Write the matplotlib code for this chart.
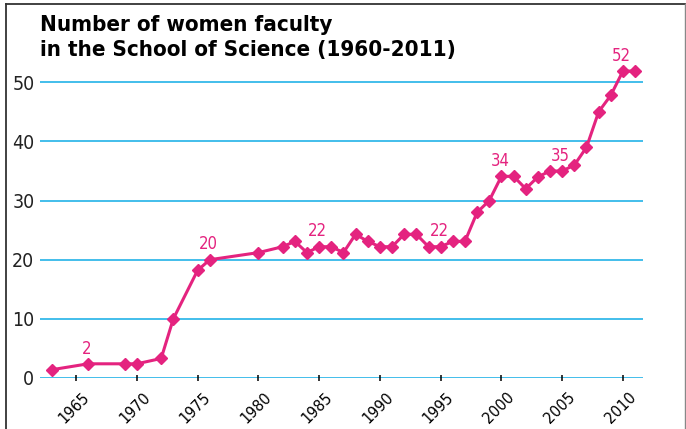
import matplotlib
matplotlib.use('Agg')
import matplotlib.pyplot as plt
from matplotlib.lines import Line2D
from matplotlib.transforms import ScaledTranslation

plt.rcParams['font.family'] = ['DejaVu Sans Condensed', 'Liberation Sans Narrow', 'DejaVu Sans']
plt.rcParams['font.stretch'] = 'condensed'

PINK = '#e4237f'
BLUE = '#22b3e8'

years = [1963, 1966, 1969, 1970, 1972, 1973, 1975, 1976, 1980, 1982,
         1983, 1984, 1985, 1986, 1987, 1988, 1989, 1990, 1991, 1992,
         1993, 1994, 1995, 1996, 1997, 1998, 1999, 2000, 2001, 2002,
         2003, 2004, 2005, 2006, 2007, 2008, 2009, 2010, 2011]
faculty = [1.4, 2.4, 2.4, 2.4, 3.3, 10, 18.2, 20, 21.2, 22.2,
           23.1, 21.2, 22.2, 22.2, 21.2, 24.3, 23.1, 22.2, 22.2, 24.3,
           24.3, 22.2, 22.2, 23.1, 23.1, 28, 30, 34.1, 34.1, 32,
           34, 35, 35, 36, 39, 45, 47.8, 51.9, 51.9]

# points that carry a value label, and the text shown
label_years = [1966, 1976, 1985, 1995, 2000, 2005, 2010]
label_texts = ['2', '20', '22', '22', '34', '35', '52']

y_ticks = [0, 10, 20, 30, 40, 50]
x_ticks = list(range(1965, 2011, 5))

fig = plt.figure(figsize=(6.86, 4.29), dpi=100)
ax = fig.add_axes([0.0583, 0.1189, 0.879, 0.7582])

for v in y_ticks:
    ax.axhline(v, color=BLUE, lw=1.2, zorder=1)

ax.plot(years, faculty, color=PINK, lw=2.2, marker='D', ms=6.3,
        zorder=3, clip_on=False)

for yr, txt in zip(label_years, label_texts):
    v = faculty[years.index(yr)]
    ax.annotate(txt, (yr, v), xytext=(-1, 11), textcoords='offset points',
                ha='center', va='center', color=PINK, fontsize=12)

ax.set_xlim(1962.03, 2011.65)
ax.set_ylim(0, 55)
ax.set_yticks(y_ticks)
ax.set_xticks(x_ticks)
for s in ax.spines.values():
    s.set_visible(False)
ax.tick_params(axis='y', length=0, pad=4, labelsize=14, colors='#222222')
ax.tick_params(axis='x', direction='inout', length=5, width=1.1,
               colors='black', labelsize=11.5, pad=6)
ax.set_xticklabels([str(t) for t in x_ticks], rotation=45,
                   ha='right', va='top', rotation_mode='anchor')
shift = ScaledTranslation(4 / 72, 0, fig.dpi_scale_trans)
for lab in ax.get_xticklabels():
    lab.set_transform(lab.get_transform() + shift)

fig.text(0.058, 0.965, 'Number of women faculty\nin the School of Science (1960-2011)',
         ha='left', va='top', fontsize=16, fontweight='bold',
         linespacing=1.32, color='black')

# outer frame
fig.add_artist(Line2D([6 / 686, 6 / 686], [0, 1 - 4 / 429],
                      transform=fig.transFigure, color='#333333', lw=1.3))
fig.add_artist(Line2D([6 / 686, 685 / 686], [1 - 4 / 429, 1 - 4 / 429],
                      transform=fig.transFigure, color='#333333', lw=1.3))
fig.add_artist(Line2D([685 / 686, 685 / 686], [0, 1 - 4 / 429],
                      transform=fig.transFigure, color='#888888', lw=1.0))

fig.savefig('out.png', dpi=100)
